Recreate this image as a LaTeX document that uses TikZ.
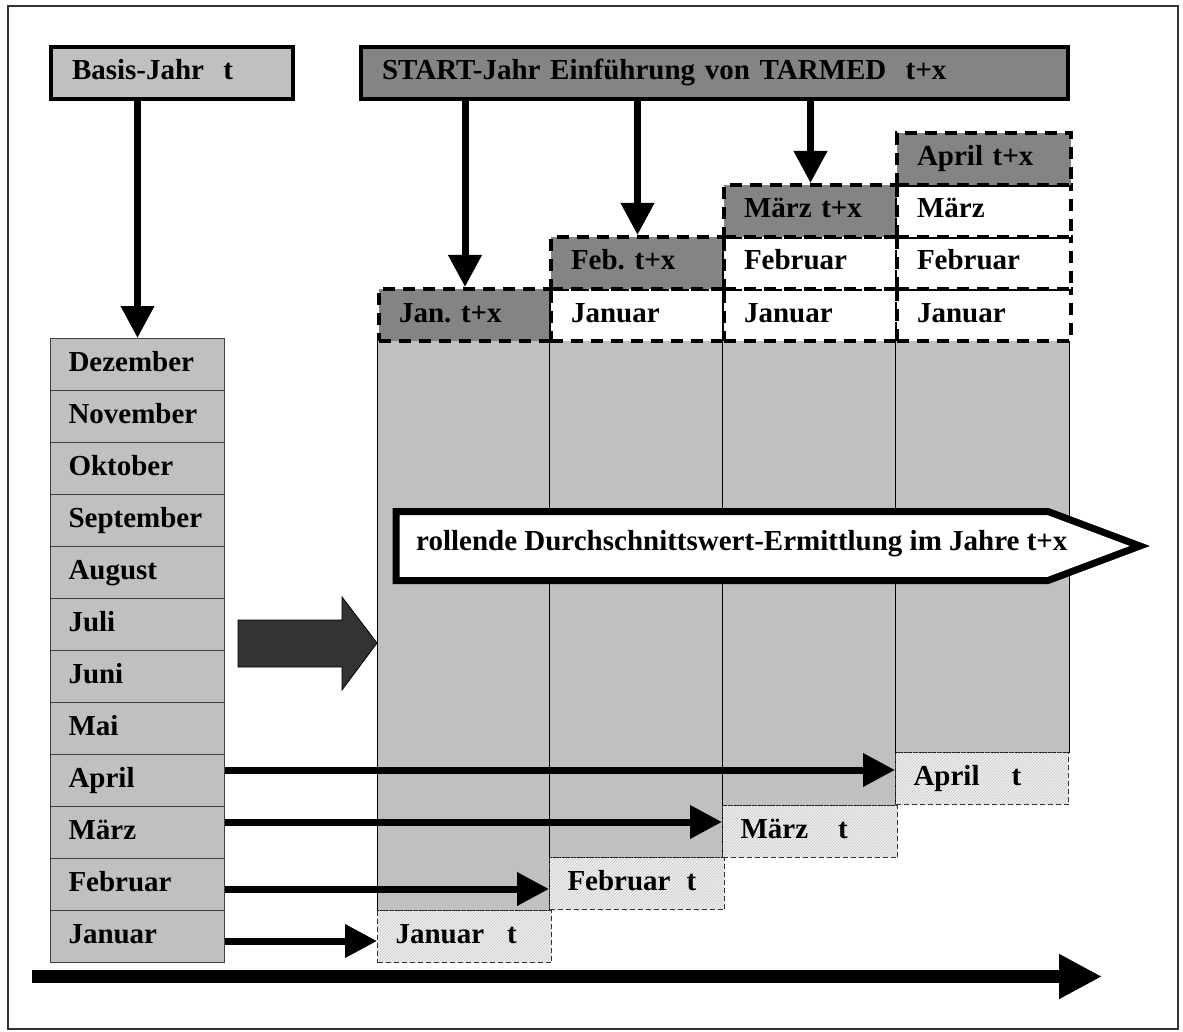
\documentclass[tikz,border=0pt]{standalone}
\usepackage{fontspec}
\setmainfont{Liberation Serif}
\usetikzlibrary{arrows.meta,patterns,calc}
\definecolor{lg}{HTML}{C0C0C0}
\definecolor{dg}{HTML}{848484}
\definecolor{xg}{HTML}{333333}
\frenchspacing
\begin{document}
\begin{tikzpicture}[x=1pt,y=-1pt,
  font=\bfseries\fontsize{29}{31}\selectfont,
  topbox/.style={draw=black,line width=4pt,anchor=north west,minimum height=52pt,
     inner xsep=21pt,inner ysep=0pt,align=left,text height=20pt,text depth=6pt},
  monthcell/.style={draw=black!75,line width=1pt,fill=lg,anchor=north west,minimum height=52pt,
     text width=138pt,inner xsep=18pt,inner ysep=0pt,align=left,text height=20pt,text depth=6pt},
  hdrcell/.style={draw=black,line width=4pt,dash pattern=on 12pt off 8pt,anchor=north west,
     minimum height=52pt,inner xsep=20pt,inner ysep=0pt,align=left,text height=20pt,text depth=6pt},
  hatchcell/.style={draw=black!80,line width=1pt,dash pattern=on 5pt off 3pt,anchor=north west,
     minimum height=52pt,inner xsep=18pt,inner ysep=0pt,align=left,text height=20pt,text depth=6pt,
     preaction={fill=gray!12},pattern=north east lines,pattern color=gray!45},
  body/.style={draw=black,line width=1pt,fill=lg},
  thickarrow/.style={line width=7pt,-{Triangle[length=32pt,width=32pt]}}
]
\useasboundingbox (0,0) rectangle (1183,1032);
\draw[line width=1.5pt,draw=xg] (8,6) rectangle (1178,1029);

% top boxes
\node[topbox,fill=lg,text width=200pt] (basis) at (49,45) {Basis-Jahr\ \ t};
\node[topbox,fill=dg,text width=665pt] (start) at (359,45) {START-Jahr Einführung von TARMED\ \ t+x};

% month column
\foreach \m [count=\i from 0] in {Dezember,November,Oktober,September,August,Juli,Juni,Mai,April,März,Februar,Januar}{
  \node[monthcell] (m\i) at (50,338+52*\i) {\m};
}

% gray column bodies
\draw[body] (377,338) rectangle (549,910);
\draw[body] (549,338) rectangle (722,857);
\draw[body] (722,338) rectangle (895,805);
\draw[body] (895,338) rectangle (1069,752);

% hatched boxes
\node[hatchcell,minimum width=174pt,text width=138pt] (tJan) at (377,910) {Januar\hspace{23pt}t};
\node[hatchcell,minimum width=175pt,text width=139pt] (tFeb) at (549,857) {Februar\hspace{16pt}t};
\node[hatchcell,minimum width=175pt,text width=139pt] (tMar) at (722,805) {März\hspace{30pt}t};
\node[hatchcell,minimum width=173pt,text width=137pt] (tApr) at (895,752) {April\hspace{32pt}t};

% header cells
\node[hdrcell,fill=dg,text width=132pt] (h1a) at (377,287) {Jan. t+x};

\node[hdrcell,fill=white,text width=133pt] (h2a) at (549,287) {Januar};
\node[hdrcell,fill=dg,text width=133pt] (h2b) at (549,235) {Feb. t+x};

\node[hdrcell,fill=white,text width=133pt] (h3a) at (722,287) {Januar};
\node[hdrcell,fill=white,text width=133pt] (h3b) at (722,235) {Februar};
\node[hdrcell,fill=dg,text width=133pt] (h3c) at (722,183) {März t+x};

\node[hdrcell,fill=white,text width=134pt] (h4a) at (895,287) {Januar};
\node[hdrcell,fill=white,text width=134pt] (h4b) at (895,235) {Februar};
\node[hdrcell,fill=white,text width=134pt] (h4c) at (895,183) {März};
\node[hdrcell,fill=dg,text width=134pt] (h4d) at (895,131) {April t+x};

% vertical arrows
\draw[thickarrow] (basis.south -| m0.north) -- (m0.north);
\draw[thickarrow] (start.south -| h1a.north) -- (h1a.north);
\draw[thickarrow] (start.south -| h2b.north) -- (h2b.north);
\draw[thickarrow] (start.south -| h3c.north) -- (h3c.north);

% big dark arrow
\draw[fill=xg,draw=black,line width=0.8pt]
  (238,620) -- (342,620) -- (342,597) -- (377,643) -- (342,690) -- (342,667) -- (238,667) -- cycle;

% rolling average pentagon
\draw[line width=7pt,fill=white,line join=miter]
  (396,511.5) -- (1048,511.5) -- (1140,546) -- (1048,580.5) -- (396,580.5) -- cycle;
\node[anchor=west,inner sep=0pt] (roll) at (416,544) {rollende Durchschnittswert-Ermittlung im Jahre t+x};

% month arrows
\draw[thickarrow] (m8.east |- 0,770) -- (tApr.west |- 0,770);
\draw[thickarrow] (m9.east |- 0,822) -- (tMar.west |- 0,822);
\draw[thickarrow] (m10.east |- 0,889) -- (tFeb.west |- 0,889);
\draw[thickarrow] (m11.east |- 0,941) -- (tJan.west |- 0,941);

% time axis
\coordinate (axs) at (32,976.5);
\coordinate (axe) at (1102,976.5);
\draw[line width=13pt,-{Triangle[length=43pt,width=42pt]}] (axs) -- (axe);
\end{tikzpicture}
\end{document}
